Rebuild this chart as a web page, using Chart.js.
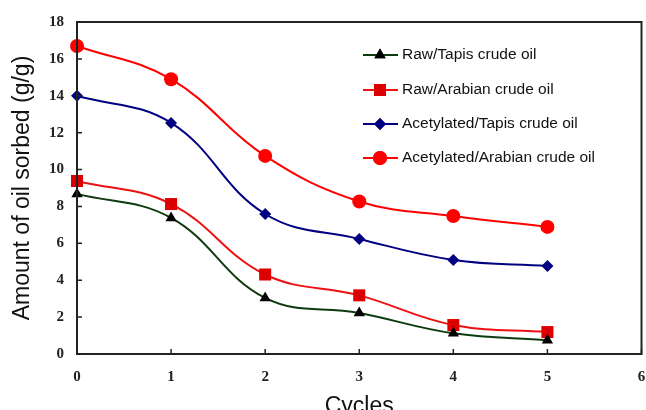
<!DOCTYPE html>
<html>
<head>
<meta charset="utf-8">
<script src="https://cdn.jsdelivr.net/npm/chart.js@4/dist/chart.umd.min.js"></script>
<style>
  html, body { margin: 0; padding: 0; background: #fff; overflow: hidden; }
  #wrap { width: 650px; height: 422px; position: relative; }
</style>
</head>
<body>
<div id="wrap"><canvas id="chart"></canvas></div>
<script>
// cycles on the x axis
const cycles = [0, 1, 2, 3, 4, 5];

// amount of oil sorbed (g/g)
const rawTapis = [8.68, 7.38, 3.04, 2.22, 1.12, 0.75];
const rawArabian = [9.38, 8.13, 4.31, 3.18, 1.57, 1.19];
const acetTapis = [14.0, 12.53, 7.59, 6.24, 5.1, 4.77];
const acetArabian = [16.7, 14.9, 10.74, 8.27, 7.48, 6.89];

const seriesNames = ["Raw/Tapis crude oil", "Raw/Arabian crude oil", "Acetylated/Tapis crude oil", "Acetylated/Arabian crude oil"];

const xTicks = [0, 1, 2, 3, 4, 5, 6];
const yTicks = [0, 2, 4, 6, 8, 10, 12, 14, 16, 18];

function pairs(vals) {
    return cycles.map((c, i) => ({ x: c, y: vals[i] }));
}

const datasets = [
    { label: seriesNames[0], data: pairs(rawTapis), borderColor: "#0d3b0d", backgroundColor: "#000", pointStyle: "triangle", pointRadius: 6.5 },
    { label: seriesNames[1], data: pairs(rawArabian), borderColor: "#ee1111", backgroundColor: "#dd0000", pointStyle: "rect", pointRadius: 8.5 },
    { label: seriesNames[2], data: pairs(acetTapis), borderColor: "#000080", backgroundColor: "#000080", pointStyle: "rectRot", pointRadius: 6 },
    { label: seriesNames[3], data: pairs(acetArabian), borderColor: "#ff0000", backgroundColor: "#ff0000", pointStyle: "circle", pointRadius: 7 }
].map(d => Object.assign(d, {
    borderWidth: 2,
    tension: 0.4,
    clip: false,
    pointBorderWidth: 0,
    pointBorderColor: d.backgroundColor,
    pointHoverRadius: d.pointRadius
}));

// box round the plot, inward ticks and the legend
const frame = {
    id: "frame",
    afterDraw(chart) {
        const ctx = chart.ctx;
        const a = chart.chartArea;
        const xs = chart.scales.x, ys = chart.scales.y;
        ctx.save();
        ctx.strokeStyle = "#222";
        ctx.lineWidth = 2;
        ctx.strokeRect(a.left, a.top, a.right - a.left, a.bottom - a.top);
        ctx.lineWidth = 1.5;
        ctx.beginPath();
        xTicks.forEach(t => {
            const px = xs.getPixelForValue(t);
            ctx.moveTo(px, a.bottom);
            ctx.lineTo(px, a.bottom - 5);
        });
        yTicks.forEach(t => {
            const py = ys.getPixelForValue(t);
            ctx.moveTo(a.left, py);
            ctx.lineTo(a.left + 5, py);
        });
        ctx.stroke();

        // legend
        ctx.font = "15.5px 'Liberation Sans', Arial, sans-serif";
        ctx.textBaseline = "middle";
        const rows = [55, 90, 124, 158];
        chart.data.datasets.forEach((ds, i) => {
            const y = rows[i];
            ctx.strokeStyle = ds.borderColor;
            ctx.lineWidth = 2;
            ctx.beginPath();
            ctx.moveTo(363, y);
            ctx.lineTo(398, y);
            ctx.stroke();
            ctx.fillStyle = ds.backgroundColor;
            Chart.helpers.drawPoint(ctx, { pointStyle: ds.pointStyle, radius: ds.pointRadius, rotation: 0, borderWidth: 0 }, 380, y);
            ctx.fill();
            ctx.fillStyle = "#111";
            ctx.fillText(ds.label, 402, y);
        });
        ctx.restore();
    }
};

const tickFont = { family: "'Liberation Serif', 'Times New Roman', serif", size: 15, weight: "bold" };
const titleFont = { family: "'Liberation Sans', Arial, sans-serif", size: 23 };

new Chart(document.getElementById("chart"), {
    type: "line",
    data: { datasets },
    options: {
        responsive: true,
        maintainAspectRatio: false,
        animation: false,
        layout: { padding: { top: 14, right: 1, left: 0, bottom: 0 } },
        plugins: { legend: { display: false }, tooltip: { enabled: false } },
        scales: {
            x: {
                type: "linear",
                min: 0, max: 6,
                afterBuildTicks: s => { s.ticks = xTicks.map(v => ({ value: v })); },
                grid: { display: false, drawTicks: false },
                border: { display: false },
                ticks: { color: "#222", font: tickFont, padding: 14 },
                title: { display: true, text: "Cycles", color: "#111", font: titleFont, padding: { top: 0, bottom: 2 } },
                afterFit: s => { s.height = 68; s.paddingLeft = 0; s.paddingRight = 0; }
            },
            y: {
                min: 0, max: 18,
                afterBuildTicks: s => { s.ticks = yTicks.map(v => ({ value: v })); },
                grid: { display: false, drawTicks: false },
                border: { display: false },
                ticks: { color: "#222", font: tickFont, padding: 13 },
                title: { display: true, text: "Amount of oil sorbed (g/g)", color: "#111", font: titleFont, padding: { top: 9, bottom: 0 } },
                afterFit: s => { s.width = 77; }
            }
        }
    },
    plugins: [frame]
});
</script>
</body>
</html>
